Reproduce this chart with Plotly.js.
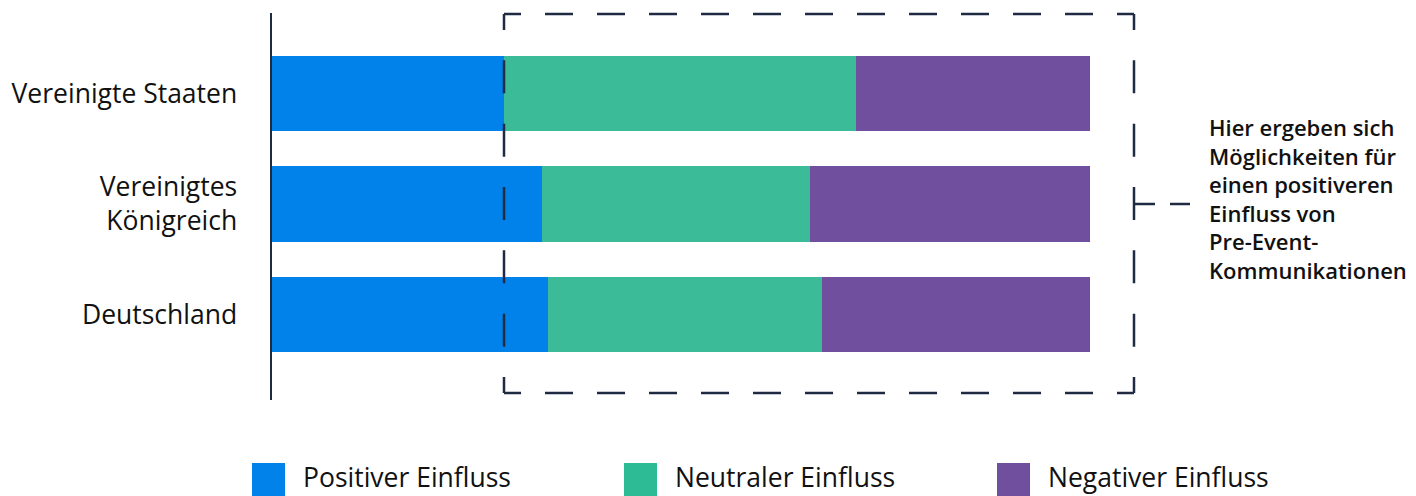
<!DOCTYPE html>
<html>
<head>
<meta charset="utf-8">
<script src="https://cdn.plot.ly/plotly-3.0.1.min.js"></script>
<style>
html,body{margin:0;padding:0;background:#fff;}
#chart{width:1416px;height:496px;}
</style>
</head>
<body>
<div id="chart"></div>
<script>
const categories = ['Vereinigte Staaten', 'Vereinigtes<br>Königreich', 'Deutschland'];
const seriesNames = ['Positiver Einfluss', 'Neutraler Einfluss', 'Negativer Einfluss'];
const positive = [28.4, 33.0, 33.7];
const neutral = [43.0, 32.8, 33.5];
const negative = [28.6, 34.2, 32.8];
const colors = ['#0082EA', '#3CBB99', '#6F4F9E'];
const legendColors = ['#0082EA', '#2DBB95', '#6F4F9E'];
const noteText = 'Hier ergeben sich<br>Möglichkeiten für<br>einen positiveren<br>Einfluss von<br>Pre-Event-<br>Kommunikationen';

const series = [positive, neutral, negative];
const traces = series.map((vals, i) => ({
  type: 'bar',
  orientation: 'h',
  y: categories,
  x: vals,
  name: seriesNames[i],
  marker: {color: colors[i], line: {width: 0}},
  hoverinfo: 'skip'
}));

const L = 272, W = 818, T = 13, H = 387;
const px = v => (v - L) / W;
const py = v => (T + H - v) / H;

// dash pattern with short pieces at both corners
function cornerDash(len, corner, dash, gapTarget) {
  const k = Math.max(1, Math.round((len - 2 * corner - gapTarget) / (dash + gapTarget)));
  const gap = (len - 2 * corner - k * dash) / (k + 1);
  const parts = [corner];
  for (let i = 0; i < k; i++) parts.push(gap, dash);
  parts.push(gap, corner, 1000);
  return parts.map(p => p.toFixed(2) + 'px').join(',');
}

const navy = '#1E2B42';
const bx0 = 504, bx1 = 1134, by0 = 14, by1 = 393;
const hDash = cornerDash(bx1 - bx0, 17, 28, 24);
const vDash = cornerDash(by1 - by0, 16, 33, 30);
const lw = 2.5;
const shapes = [
  {type: 'line', xref: 'paper', yref: 'paper', x0: px(bx0), x1: px(bx1), y0: py(by0), y1: py(by0),
   line: {color: navy, width: lw, dash: hDash}, layer: 'above'},
  {type: 'line', xref: 'paper', yref: 'paper', x0: px(bx0), x1: px(bx1), y0: py(by1), y1: py(by1),
   line: {color: navy, width: lw, dash: hDash}, layer: 'above'},
  {type: 'line', xref: 'paper', yref: 'paper', x0: px(bx0), x1: px(bx0), y0: py(by0), y1: py(by1),
   line: {color: navy, width: lw, dash: vDash}, layer: 'above'},
  {type: 'line', xref: 'paper', yref: 'paper', x0: px(bx1), x1: px(bx1), y0: py(by0), y1: py(by1),
   line: {color: navy, width: lw, dash: vDash}, layer: 'above'},
  {type: 'line', xref: 'paper', yref: 'paper', x0: px(bx1), x1: px(1190), y0: py(204), y1: py(204),
   line: {color: navy, width: lw, dash: '21px,15px,20px,100px'}, layer: 'above'}
];

const legendX = [252, 624, 997];
const annotations = [
  {xref: 'paper', yref: 'paper', x: px(1207), y: py(198), xanchor: 'left', yanchor: 'middle', align: 'left',
   text: noteText, showarrow: false,
   font: {family: 'Open Sans', size: 22, weight: 600, color: '#111'}}
];
seriesNames.forEach((n, i) => {
  shapes.push({type: 'rect', xref: 'paper', yref: 'paper',
    x0: px(legendX[i]), x1: px(legendX[i] + 33),
    y0: py(496), y1: py(463),
    fillcolor: legendColors[i], line: {width: 0}});
  annotations.push({xref: 'paper', yref: 'paper', x: px(legendX[i] + 49), y: py(477),
    xanchor: 'left', yanchor: 'middle', text: n, showarrow: false,
    font: {family: 'Open Sans', size: 26.5, color: '#111'}});
});

const layout = {
  width: 1416, height: 496,
  margin: {l: L, r: 1416 - L - W, t: T, b: 496 - T - H, pad: 0},
  paper_bgcolor: '#fff', plot_bgcolor: '#fff',
  barmode: 'stack',
  bargap: 0.32,
  showlegend: false,
  xaxis: {range: [0, 100], visible: false, fixedrange: true},
  yaxis: {
    type: 'category',
    categoryorder: 'array', categoryarray: categories,
    range: [2.774, -0.7285],
    showline: true, linecolor: navy, linewidth: 2.5,
    showgrid: false, zeroline: false, ticks: '',
    ticklabelstandoff: 27,
    tickfont: {family: 'Open Sans', size: 26.5, color: '#111'}
  },
  shapes: shapes,
  annotations: annotations
};

Plotly.newPlot('chart', traces, layout, {displayModeBar: false, staticPlot: true});
</script>
</body>
</html>
